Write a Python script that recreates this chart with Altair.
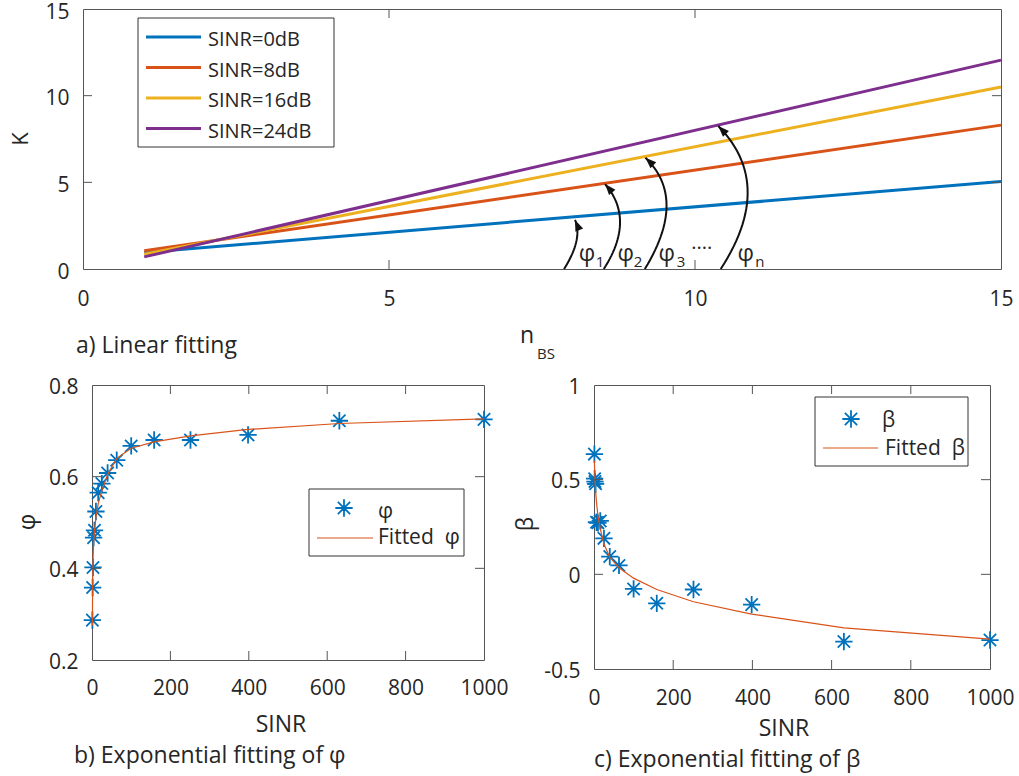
import numpy as np
import pandas as pd
import altair as alt

FONT = "Open Sans"
INK = "#262626"
FRAME = "#555555"
BOX = "#333333"
BLUE = "#0072BD"
ORANGE = "#D95319"
STAR = "M0,-1L0,1M-1,0L1,0M-0.71,-0.71L0.71,0.71M-0.71,0.71L0.71,-0.71"
HEAD = "M0,0L-0.38,1L0.38,1Z"

# ---------------- (a) linear fitting of K against n_BS ----------------
n_bs = [1, 15]
series_names = ["SINR=0dB", "SINR=8dB", "SINR=16dB", "SINR=24dB"]
k_0db = [0.95, 5.05]
k_8db = [1.05, 8.30]
k_16db = [0.85, 10.50]
k_24db = [0.70, 12.05]
series_colors = ["#0072BD", "#D95319", "#EDB120", "#7E2F8E"]
a_x_ticks = [0, 5, 10, 15]
a_y_ticks = [0, 5, 10, 15]

# slope arrows: start on the axis, quadratic control point, tip on each line
arrow_start_x = [7.86, 8.51, 9.18, 10.42]
arrow_ctrl_x = [8.17, 9.03, 9.885, 11.32]
arrow_ctrl_y = [1.73, 2.86, 4.06, 4.875]
arrow_tip_x = [8.04, 8.53, 9.19, 10.38]
arrow_tip_y = [2.83, 4.90, 6.42, 8.25]
phi_sub = ["1", "2", "3", "n"]
phi_x = [8.235, 8.87, 9.54, 10.83]
phi_sub_x = [8.45, 9.07, 9.77, 11.06]
phi_y = 0.865
phi_sub_y = 0.40
dots_x, dots_y = 10.11, 1.15

# ---------------- (b), (c) exponential fittings against SINR ----------------
sinr = [1, 1.585, 2.512, 3.981, 6.310, 10, 15.85, 25.12, 39.81, 63.10,
        100, 158.5, 251.2, 398.1, 631.0, 1000]
phi_vals = [0.287, 0.358, 0.402, 0.467, 0.483, 0.524, 0.565, 0.585, 0.608, 0.636,
            0.667, 0.680, 0.680, 0.691, 0.722, 0.725]
phi_fit = [0.275, 0.366, 0.416, 0.453, 0.482, 0.511, 0.541, 0.569, 0.605, 0.640,
           0.662, 0.676, 0.689, 0.703, 0.716, 0.726]
beta_vals = [0.635, 0.505, 0.490, 0.478, 0.275, 0.272, 0.282, 0.190, 0.094, 0.047,
             -0.077, -0.153, -0.080, -0.160, -0.355, -0.347]
beta_fit = [0.600, 0.550, 0.500, 0.440, 0.380, 0.310, 0.240, 0.160, 0.090, 0.035,
            -0.020, -0.080, -0.145, -0.210, -0.283, -0.342]
sinr_ticks = [0, 200, 400, 600, 800, 1000]
phi_ticks = [0.2, 0.4, 0.6, 0.8]
beta_ticks = [-0.5, 0, 0.5, 1]

W_A, H_A = 918, 260
W_B, H_B = 392, 275
W_C, H_C = 396, 284

one = pd.DataFrame({"k": [0]})


def text(s, x, y, size, align="left", baseline="middle", angle=0, color=INK):
    kw = dict(text=s, font=FONT, fontSize=size, align=align, baseline=baseline, color=color)
    if angle:
        kw["angle"] = angle
    return alt.Chart(one).mark_text(**kw).encode(x=alt.value(x), y=alt.value(y))


def axis(values, pad, fmt=None, expr=None, shift=0):
    kw = dict(values=values, ticks=False, tickSize=0, domain=False, grid=False,
              labels=True, labelFont=FONT, labelFontSize=21, labelColor=INK,
              labelPadding=pad, labelFlush=False, labelOverlap=False, title="")
    if fmt:
        kw["format"] = fmt
    if expr:
        kw["labelExpr"] = expr
    if shift:
        kw["labelOffset"] = shift
    return alt.Axis(**kw)


def inner_ticks(xs, ys, xe_fn, ye_fn, w, h, length=9):
    xdf = pd.DataFrame({"v": xs})
    ydf = pd.DataFrame({"v": ys})
    st = dict(color=FRAME, strokeWidth=1)
    return [
        alt.Chart(xdf).mark_rule(**st).encode(x=xe_fn("v"), y=alt.value(h), y2=alt.value(h - length)),
        alt.Chart(xdf).mark_rule(**st).encode(x=xe_fn("v"), y=alt.value(0), y2=alt.value(length)),
        alt.Chart(ydf).mark_rule(**st).encode(y=ye_fn("v"), x=alt.value(0), x2=alt.value(length)),
        alt.Chart(ydf).mark_rule(**st).encode(y=ye_fn("v"), x=alt.value(w), x2=alt.value(w - length)),
    ]


# ---- panel (a) ----
xa = alt.Scale(domain=[0, 15], nice=False, zero=False)
ya = alt.Scale(domain=[0, 15], nice=False, zero=False)
ax_a_x = axis(a_x_ticks, 19, "d")
ax_a_y = axis(a_y_ticks, 14, "d", shift=3)


def XA(f):
    return alt.X(f"{f}:Q", scale=xa, axis=ax_a_x)


def YA(f):
    return alt.Y(f"{f}:Q", scale=ya, axis=ax_a_y)


a_layers = []
for i, ks in enumerate([k_0db, k_8db, k_16db, k_24db]):
    df = pd.DataFrame({"n_bs": n_bs, "K": ks})
    a_layers.append(
        alt.Chart(df).mark_line(color=series_colors[i], strokeWidth=3).encode(x=XA("n_bs"), y=YA("K"))
    )

a_layers += inner_ticks([5, 10], [5, 10], XA, YA, W_A, H_A)

# curved arrows (quadratic Bezier through the control point)
t = np.linspace(0, 1, 30)
rows = []
heads = []
ux, uy = W_A / 15.0, H_A / 15.0
for i in range(len(arrow_start_x)):
    p0 = np.array([arrow_start_x[i], 0.0])
    p1 = np.array([arrow_ctrl_x[i], arrow_ctrl_y[i]])
    p2 = np.array([arrow_tip_x[i], arrow_tip_y[i]])
    pts = ((1 - t) ** 2)[:, None] * p0 + (2 * (1 - t) * t)[:, None] * p1 + (t ** 2)[:, None] * p2
    for j, (x, y) in enumerate(pts):
        rows.append({"arrow": i, "step": j, "x": x, "y": y})
    sx = (p2[0] - p1[0]) * ux
    sy = -(p2[1] - p1[1]) * uy
    heads.append({"x": p2[0], "y": p2[1], "angle": float(np.degrees(np.arctan2(sx, -sy)) % 360)})
arcs = pd.DataFrame(rows)
heads = pd.DataFrame(heads)

a_layers.append(
    alt.Chart(arcs).mark_line(color="#111111", strokeWidth=2).encode(
        x=XA("x"), y=YA("y"), detail="arrow:N", order="step:Q")
)
a_layers.append(
    alt.Chart(heads).mark_point(shape=HEAD, size=484, filled=True, color="#111111", opacity=1).encode(
        x=XA("x"), y=YA("y"), angle=alt.Angle("angle:Q", scale=None))
)
lab = pd.DataFrame({"x": phi_x, "y": [phi_y] * 4, "t": ["φ"] * 4})
sub = pd.DataFrame({"x": phi_sub_x, "y": [phi_sub_y] * 4, "t": phi_sub})
a_layers.append(
    alt.Chart(lab).mark_text(font=FONT, fontSize=23, color=INK, baseline="middle").encode(
        x=XA("x"), y=YA("y"), text="t:N")
)
a_layers.append(
    alt.Chart(sub).mark_text(font=FONT, fontSize=15, color=INK, baseline="middle").encode(
        x=XA("x"), y=YA("y"), text="t:N")
)
a_layers.append(
    alt.Chart(pd.DataFrame({"x": [dots_x], "y": [dots_y]})).mark_text(
        text="····", font=FONT, fontSize=20, color=INK, baseline="middle").encode(
        x=XA("x"), y=YA("y"))
)

# legend of panel (a)
a_layers.append(alt.Chart(one).mark_rect(fill="white", stroke=BOX, strokeWidth=1).encode(
    x=alt.value(55), x2=alt.value(251), y=alt.value(9), y2=alt.value(138)))
for i, name in enumerate(series_names):
    ly = 28 + 30.5 * i
    a_layers.append(alt.Chart(one).mark_rule(color=series_colors[i], strokeWidth=3).encode(
        x=alt.value(63), x2=alt.value(118), y=alt.value(ly)))
    a_layers.append(text(name, 125, ly + 3, 20))

# axis titles and caption of panel (a)
a_layers.append(text("K", -62, 130, 22, align="center", angle=270))
a_layers.append(text("n", 444, 327, 23, align="center"))
a_layers.append(text("BS", 463, 345, 15, align="center"))
a_layers.append(text("a) Linear fitting", -7, 344, 23, baseline="alphabetic"))
# fixes the page origin at the top-left corner
a_layers.append(alt.Chart(one).mark_rect(opacity=0).encode(
    x=alt.value(-82), x2=alt.value(-81), y=alt.value(-8), y2=alt.value(-7)))

panel_a = alt.layer(*a_layers).properties(width=W_A, height=H_A)


# ---- panels (b) and (c) ----
def fit_panel(vals, fit, yticks, ydom, w, h, xpad, yexpr, yfmt, sym, leg, titles):
    xs = alt.Scale(domain=[0, 1000], nice=False, zero=False)
    ys = alt.Scale(domain=ydom, nice=False, zero=False)
    ax_x = axis(sinr_ticks, xpad, "d")
    ax_y = axis(yticks, 14, yfmt, yexpr, shift=2)

    def XF(f):
        return alt.X(f"{f}:Q", scale=xs, axis=ax_x)

    def YF(f):
        return alt.Y(f"{f}:Q", scale=ys, axis=ax_y)

    df = pd.DataFrame({"sinr": sinr, "v": vals, "f": fit})
    layers = [
        alt.Chart(df).mark_point(shape=STAR, size=300, filled=False, strokeWidth=1.8,
                                 color=BLUE, opacity=1).encode(x=XF("sinr"), y=YF("v")),
        alt.Chart(df).mark_line(color=ORANGE, strokeWidth=1.2).encode(x=XF("sinr"), y=YF("f")),
    ]
    layers += inner_ticks(sinr_ticks[1:-1], yticks[1:-1], XF, YF, w, h)
    bx0, by0, bx1, by1, star_xy, sym_xy, line_xy, fit_xy = leg
    layers.append(alt.Chart(one).mark_rect(fill="white", stroke=BOX, strokeWidth=1).encode(
        x=alt.value(bx0), x2=alt.value(bx1), y=alt.value(by0), y2=alt.value(by1)))
    layers.append(alt.Chart(one).mark_point(shape=STAR, size=300, filled=False, strokeWidth=1.8,
                                            color=BLUE, opacity=1).encode(
        x=alt.value(star_xy[0]), y=alt.value(star_xy[1])))
    layers.append(text(sym, sym_xy[0], sym_xy[1], 21))
    layers.append(alt.Chart(one).mark_rule(color=ORANGE, strokeWidth=1.2).encode(
        x=alt.value(line_xy[0]), x2=alt.value(line_xy[1]), y=alt.value(line_xy[2])))
    layers.append(text("Fitted\u00a0\u00a0" + sym, fit_xy[0], fit_xy[1], 21))
    ytitle, sinr_xy, cap, cap_xy = titles
    layers.append(text(sym, ytitle[0], ytitle[1], 23, align="center", angle=270))
    layers.append(text("SINR", sinr_xy[0], sinr_xy[1], 23, align="center"))
    layers.append(text(cap, cap_xy[0], cap_xy[1], 23, baseline="alphabetic"))
    return alt.layer(*layers).properties(width=w, height=h)


panel_b = fit_panel(
    phi_vals, phi_fit, phi_ticks, [0.2, 0.8], W_B, H_B, 17, None, ".1f", "φ",
    (217, 104, 372, 171, (252, 123), (286, 127), (225, 281, 153), (286, 153)),
    ((-64, 137), (189, 340), "b) Exponential fitting of φ", (-18, 378)),
)
panel_c = fit_panel(
    beta_vals, beta_fit, beta_ticks, [-0.5, 1], W_C, H_C, 18, "'' + datum.value", None, "β",
    (221, 12, 374, 81, (257, 34), (288, 36), (229, 284, 63), (291, 64)),
    ((-68, 139), (190, 344), "c) Exponential fitting of β", (0, 382)),
)

spacer = alt.Chart(one).mark_point(opacity=0).properties(
    width=9, height=1, view=alt.ViewBackground(strokeOpacity=0))

bottom = alt.hconcat(
    spacer,
    alt.hconcat(panel_b, panel_c, spacing=110, bounds="flush"),
    spacing=0, bounds="flush",
)

chart = (
    alt.vconcat(panel_a, bottom, spacing=116, bounds="flush")
    .properties(padding=0, autosize=alt.AutoSizeParams(type="pad"), background="white")
    .configure_view(stroke=FRAME, strokeWidth=1)
)

chart.save("out.html", embed_options={"renderer": "svg", "actions": False})
